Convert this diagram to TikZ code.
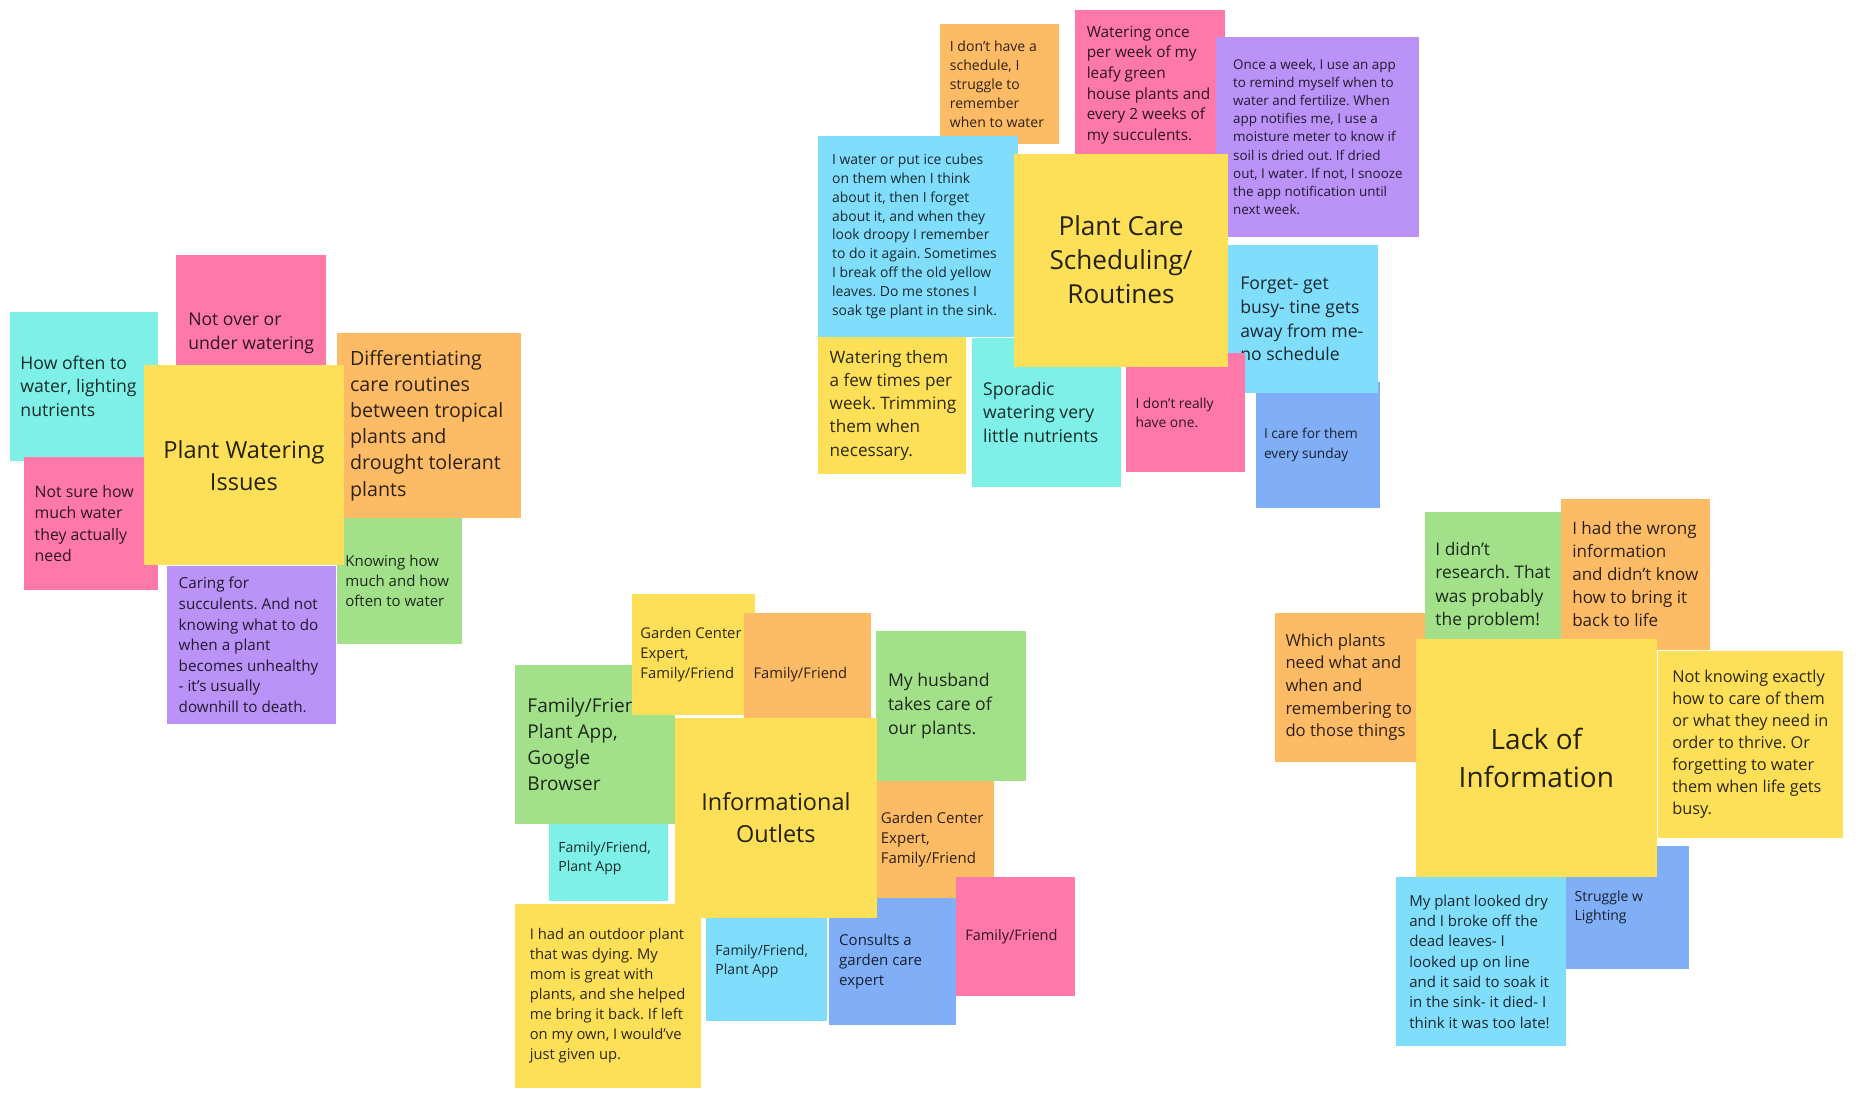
\documentclass[tikz,border=0pt]{standalone}
\usepackage{fontspec}
\setmainfont{Open Sans}
\usetikzlibrary{fit}
\definecolor{noteyellow}{HTML}{FDDF58}
\definecolor{noteorange}{HTML}{FDBB66}
\definecolor{notepink}{HTML}{FE78AA}
\definecolor{noteaqua}{HTML}{7EF0E8}
\definecolor{noteblue}{HTML}{80DDFC}
\definecolor{noteperi}{HTML}{80AFF8}
\definecolor{notepurple}{HTML}{BA92F8}
\definecolor{notegreen}{HTML}{A2E18A}
\frenchspacing

\begin{document}
\begin{tikzpicture}[
        x=1pt, y=-1pt,
        note/.style={
            rectangle,
            fill=#1,
            draw=none,
            inner sep=0pt,
            outer sep=0pt
        },
        notetext/.style={
            anchor=west,
            inner sep=0pt,
            xshift=#1,
            align=left,
            text=black,
            text opacity=.82
        },
        notetext/.default=9pt,
        headline/.style={
            anchor=center,
            inner sep=0pt,
            align=center,
            text=black,
            text opacity=.85
        },
        fs/.style 2 args={font=\fontsize{#1}{#2}\selectfont}
    ]

    \fill[white] (0,0) rectangle (1568,923);
    \useasboundingbox (0,0) rectangle (1568,923);

    % Grupo 1: riego
    \node[note=notepink, fit={(148,214) (274,346)},
        label={[notetext=10pt, fs={14.8}{20}]west:{Not over or\\under watering}}] (notover) {};
    \node[note=noteaqua, fit={(8,262) (133,387)},
        label={[notetext, fs={14.8}{20}]west:{How often to\\water, lighting\\nutrients}}] (howoften) {};
    \node[note=notepink, fit={(20,384) (133,496)},
        label={[notetext, fs={13.3}{18}]west:{Not sure how\\much water\\they actually\\need}}] (notsure) {};
    \node[note=noteorange, fit={(283,280) (438,435)},
        label={[notetext=11pt, fs={16.5}{22}]west:{Differentiating\\care routines\\between tropical\\plants and\\drought tolerant\\plants}}] (differ) {};
    \node[note=notegreen, fit={(283,435) (388,541)},
        label={[notetext=7pt, fs={12.6}{17}]west:{Knowing how\\much and how\\often to water}}] (knowing) {};
    \node[note=notepurple, fit={(140,476) (282,608)},
        label={[notetext=10pt, fs={12.8}{17.3}]west:{Caring for\\succulents. And not\\knowing what to do\\when a plant\\becomes unhealthy\\- it's usually\\downhill to death.}}] (caring) {};
    \node[note=noteyellow, fit={(121,307) (289,475)},
        label={[headline, fs={19.8}{27}]center:{Plant Watering\\Issues}}] (watering) {};

    % Grupo 2: rutinas
    \node[note=noteorange, fit={(790,20) (890,121)},
        label={[notetext=8pt, fs={11.8}{16}]west:{I don’t have a\\schedule, I\\struggle to\\remember\\when to water}}] (noschedule) {};
    \node[note=notepink, fit={(903,8) (1029,135)},
        label={[notetext=10pt, fs={12.9}{17.4}]west:{Watering once\\per week of my\\leafy green\\house plants and\\every 2 weeks of\\my succulents.}}] (onceweek) {};
    \node[note=notepurple, fit={(1022,31) (1192,199)},
        label={[notetext=14pt, fs={11.3}{15.3}]west:{Once a week, I use an app\\to remind myself when to\\water and fertilize. When\\app notifies me, I use a\\moisture meter to know if\\soil is dried out. If dried\\out, I water. If not, I snooze\\the app notification until\\next week.}}] (appremind) {};
    \node[note=noteblue, fit={(687,114) (855,283)},
        label={[notetext=12pt, fs={11.7}{15.8}]west:{I water or put ice cubes\\on them when I think\\about it, then I forget\\about it, and when they\\look droopy I remember\\to do it again. Sometimes\\I break off the old yellow\\leaves. Do me stones I\\soak tge plant in the sink.}}] (icecubes) {};
    \node[note=noteperi, fit={(1055,321) (1160,427)},
        label={[notetext=7pt, fs={11.5}{17}]west:{I care for them\\every sunday}}] (sunday) {};
    \node[note=noteblue, fit={(1032,206) (1158,330)},
        label={[notetext=10pt, fs={14.8}{20}]west:{Forget- get\\busy- tine gets\\away from me-\\no schedule}}] (forget) {};
    \node[note=notepink, fit={(946,297) (1046,397)},
        label={[notetext=8pt, fs={11.6}{15.5}]west:{I don’t really\\have one.}}] (noone) {};
    \node[note=noteyellow, fit={(687,283) (812,398)},
        label={[notetext=10pt, fs={14.4}{19.5}]west:{Watering them\\a few times per\\week. Trimming\\them when\\necessary.}}] (trimming) {};
    \node[note=noteaqua, fit={(817,284) (942,409)},
        label={[notetext, fs={14.8}{20}]west:{Sporadic\\watering very\\little nutrients}}] (sporadic) {};
    \node[note=noteyellow, fit={(852,129) (1032,308)},
        label={[headline, fs={22}{28.5}]center:{Plant Care\\Scheduling/\\Routines}}] (routines) {};

    % Grupo 3: fuentes de informacion
    \node[note=noteaqua, fit={(461,686) (561,757)},
        label={[notetext=8pt, fs={11.8}{16}]west:{Family/Friend,\\Plant App}}] (famplanta) {};
    \node[note=notegreen, fit={(433,559) (567,692)},
        label={[notetext=10pt, fs={16}{21.7}]west:{Family/Friend,\\Plant App,\\Google\\Browser}}] (browser) {};
    \node[note=noteyellow, fit={(531,499) (634,601)},
        label={[notetext=7pt, fs={12.4}{16.5}]west:{Garden Center\\Expert,\\Family/Friend}}] (gardena) {};
    \node[note=noteorange, fit={(625,515) (732,619)},
        label={[notetext=8pt, fs={12.4}{16.5}]west:{Family/Friend}}] (fama) {};
    \node[note=notegreen, fit={(736,530) (862,656)},
        label={[notetext=10pt, fs={14.8}{20}]west:{My husband\\takes care of\\our plants.}}] (husband) {};
    \node[note=noteyellow, fit={(433,760) (589,914)},
        label={[notetext=12pt, fs={12.4}{16.8}]west:{I had an outdoor plant\\that was dying. My\\mom is great with\\plants, and she helped\\me bring it back. If left\\on my own, I would’ve\\just given up.}}] (outdoor) {};
    \node[note=noteblue, fit={(593,758) (695,858)},
        label={[notetext=8pt, fs={11.8}{16}]west:{Family/Friend,\\Plant App}}] (famplantb) {};
    \node[note=noteorange, fit={(733,656) (835,755)},
        label={[notetext=7pt, fs={12.6}{17}]west:{Garden Center\\Expert,\\Family/Friend}}] (gardenb) {};
    \node[note=noteperi, fit={(697,755) (803,861)},
        label={[notetext=8pt, fs={12.6}{17}]west:{Consults a\\garden care\\expert}}] (consults) {};
    \node[note=notepink, fit={(803,737) (903,837)},
        label={[notetext=8pt, fs={12.2}{16}]west:{Family/Friend}}] (famb) {};
    \node[note=noteyellow, fit={(567,603) (737,771)},
        label={[headline, fs={19.7}{26.5}]center:{Informational\\Outlets}}] (outlets) {};

    % Grupo 4: falta de informacion
    \node[note=notegreen, fit={(1197,430) (1312,555)},
        label={[notetext, fs={14.6}{19.7}]west:{I didn’t\\research. That\\was probably\\the problem!}}] (research) {};
    \node[note=noteorange, fit={(1312,419) (1437,546)},
        label={[notetext, fs={14.3}{19.3}]west:{I had the wrong\\information\\and didn’t know\\how to bring it\\back to life}}] (wronginfo) {};
    \node[note=noteorange, fit={(1071,515) (1197,640)},
        label={[notetext, fs={14}{19}]west:{Which plants\\need what and\\when and\\remembering to\\do those things}}] (whichplants) {};
    \node[note=noteyellow, fit={(1393,547) (1549,704)},
        label={[notetext=12pt, fs={13.7}{18.5}]west:{Not knowing exactly\\how to care of them\\or what they need in\\order to thrive. Or\\forgetting to water\\them when life gets\\busy.}}] (notknowing) {};
    \node[note=noteperi, fit={(1315,711) (1419,814)},
        label={[notetext=8pt, fs={11.8}{16}]west:{Struggle w\\Lighting}}] (lighting) {};
    \node[note=noteblue, fit={(1173,737) (1316,879)},
        label={[notetext=11pt, fs={12.6}{17.1}]west:{My plant looked dry\\and I broke off the\\dead leaves- I\\looked up on line\\and it said to soak it\\in the sink- it died- I\\think it was too late!}}] (lookeddry) {};
    \node[note=noteyellow, fit={(1190,537) (1392,737)},
        label={[headline, fs={23.5}{32}]center:{Lack of\\Information}}] (lackinfo) {};

\end{tikzpicture}
\end{document}
